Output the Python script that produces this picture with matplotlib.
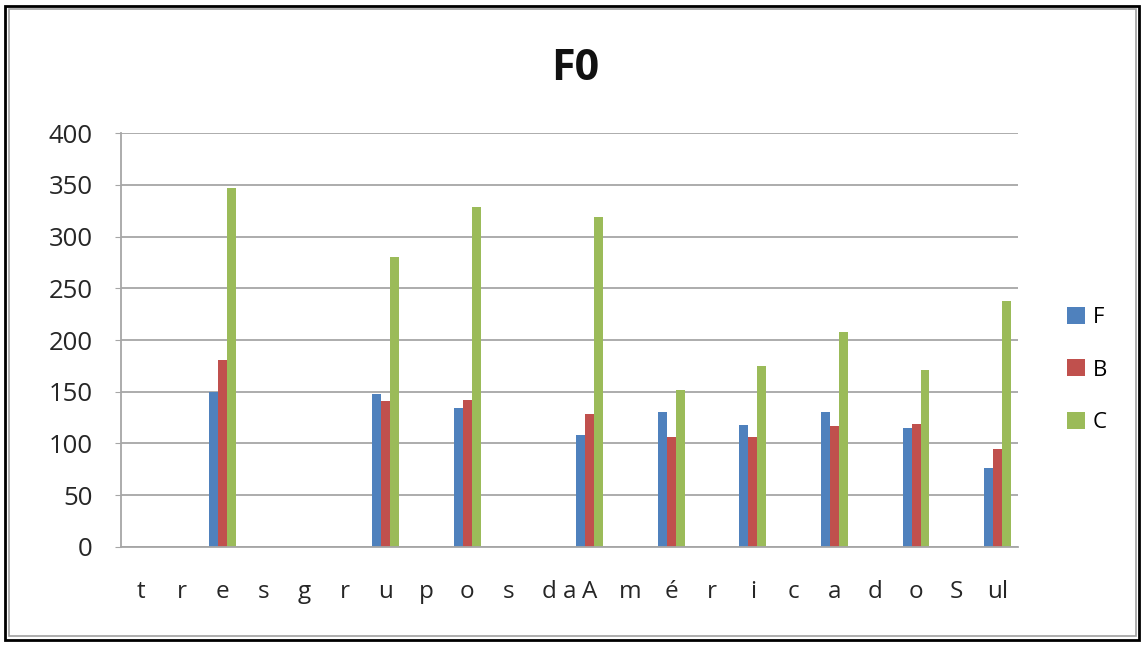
import numpy as np
import matplotlib.pyplot as plt
from matplotlib.patches import Rectangle

plt.rcParams['font.family'] = ['Open Sans', 'DejaVu Sans']

# syllable labels along the x axis
labels = ["t", "r", "e", "s", "g", "r", "u", "p", "o", "s", "d", "A",
          "m", "é", "r", "i", "c", "a", "d", "o", "S", "ul"]
nan = np.nan
F = [nan, nan, 150, nan, nan, nan, 148, nan, 134, nan, nan, 108,
     nan, 130, nan, 118, nan, 130, nan, 115, nan, 76]
B = [nan, nan, 181, nan, nan, nan, 141, nan, 142, nan, nan, 128,
     nan, 106, nan, 106, nan, 117, nan, 119, nan, 95]
C = [nan, nan, 347, nan, nan, nan, 280, nan, 329, nan, nan, 319,
     nan, 152, nan, 175, nan, 208, nan, 171, nan, 238]
series = ["F", "B", "C"]
colors = ["#4F81BD", "#C0504D", "#9BBB59"]

fig = plt.figure(figsize=(11.44, 6.46), dpi=100)
ax = fig.add_axes([120.6 / 1144, 1 - 546.7 / 646, 897.4 / 1144, 413.4 / 646])

x = np.arange(len(labels))
w = 0.22
for i, (vals, name, col) in enumerate(zip([F, B, C], series, colors)):
    ax.bar(x + (i - 1) * w, np.array(vals, dtype=float), w, color=col, label=name)

ax.set_xlim(-0.5, len(labels) - 0.5)
ax.set_ylim(0, 400)
ax.set_yticks(np.arange(0, 401, 50))
ax.yaxis.grid(True, color="#A6A6A6", linewidth=1.3)
ax.set_axisbelow(True)

ax.set_xticks(x)
ax.set_xticklabels(labels)
# the small "a" of "daAm" sits between d and A
ax.set_xticks([10.52], minor=True)
ax.set_xticklabels(["a"], minor=True)
ax.tick_params(axis="x", which="both", length=0, pad=24, labelsize=17.5, colors="#262626")
ax.tick_params(axis="y", length=4, color="#A6A6A6", pad=16, labelsize=18.5, labelcolor="#262626")

for s in ["top", "right"]:
    ax.spines[s].set_visible(False)
ax.spines["left"].set_color("#A6A6A6")
ax.spines["bottom"].set_color("#A6A6A6")
ax.spines["left"].set_linewidth(1.3)
ax.spines["bottom"].set_linewidth(1.3)

fig.text(575 / 1144, 1 - 68 / 646, "F0", fontsize=31, fontweight="bold",
         ha="center", va="center", color="#111111")

fig.legend(loc="center left", bbox_to_anchor=(1047 / 1144, 1 - 370 / 646),
           frameon=False, fontsize=16, handlelength=0.8, handleheight=0.8,
           handletextpad=0.35, labelspacing=1.42)

# chart frame
fig.add_artist(Rectangle((5 / 1144, 6 / 646), 1134 / 1144, 634 / 646,
                         transform=fig.transFigure, fill=False, ec="black", lw=2.0))
fig.add_artist(Rectangle((9 / 1144, 10 / 646), 1127 / 1144, 627 / 646,
                         transform=fig.transFigure, fill=False, ec="#A0A0A0", lw=1.2))

fig.savefig("out.png", dpi=100)
